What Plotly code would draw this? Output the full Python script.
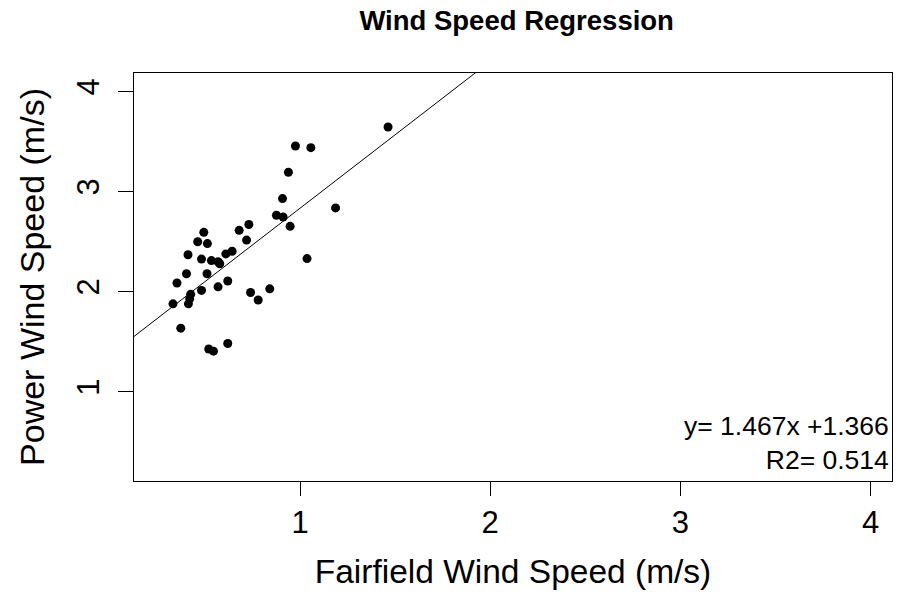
import plotly.graph_objects as go

# Data
fairfield = [1.463, 0.976, 1.057, 0.939, 0.908, 1.187, 0.876, 0.911, 0.948, 0.731,
             0.680, 0.719, 0.494, 0.462, 0.513, 0.411, 0.482, 0.534, 0.569, 0.578,
             0.610, 0.643, 1.037, 0.403, 0.511, 0.353, 0.620, 0.569, 0.482, 0.425,
             0.420, 0.413, 0.332, 0.740, 0.780, 0.841, 0.373, 0.520, 0.545, 0.620]
power = [3.645, 3.455, 3.438, 3.192, 2.929, 2.836, 2.763, 2.745, 2.652, 2.670,
         2.612, 2.515, 2.592, 2.498, 2.480, 2.368, 2.325, 2.310, 2.298, 2.278,
         2.377, 2.403, 2.330, 2.179, 2.179, 2.086, 2.106, 2.048, 2.012, 1.973,
         1.928, 1.878, 1.878, 1.991, 1.916, 2.028, 1.635, 1.427, 1.405, 1.482]

SLOPE = 1.467
INTERCEPT = 1.366
R2 = 0.514

x_range = [0.127, 4.113]
y_range = [0.108, 4.184]
x_ticks = [1, 2, 3, 4]
y_ticks = [1, 2, 3, 4]

FONT = "Liberation Sans, Arial, sans-serif"

fig = go.Figure()
fig.add_trace(go.Scatter(
    x=fairfield, y=power, mode="markers",
    marker=dict(color="black", size=9, line=dict(width=0)),
    showlegend=False, hoverinfo="x+y"))

line_x = list(x_range)
line_y = [SLOPE * v + INTERCEPT for v in line_x]
fig.add_trace(go.Scatter(
    x=line_x, y=line_y, mode="lines",
    line=dict(color="black", width=1), showlegend=False, hoverinfo="skip"))

fig.update_layout(
    width=908, height=597,
    margin=dict(l=134, r=16, t=73, b=116, autoexpand=False),
    paper_bgcolor="white", plot_bgcolor="white",
    font=dict(family=FONT, color="black"),
    title=dict(text="<b>Wind Speed Regression</b>", x=0.569, xanchor="center",
               y=1 - 20 / 597, yanchor="middle", yref="container",
               font=dict(size=27.5, family=FONT, color="black")),
    xaxis=dict(range=x_range, tickvals=x_ticks, ticktext=[str(t) for t in x_ticks],
               showgrid=False, zeroline=False, showline=True, linecolor="black",
               linewidth=1.3, mirror=True, ticks="outside", ticklen=14,
               tickcolor="black", tickwidth=1.3, tickfont=dict(size=31),
               automargin=False,
               title=dict(text="Fairfield Wind Speed (m/s)", font=dict(size=33.5), standoff=20)),
    yaxis=dict(range=y_range, tickvals=y_ticks, ticktext=[str(t) for t in y_ticks],
               showgrid=False, zeroline=False, showline=True, linecolor="black",
               linewidth=1.3, mirror=True, ticks="outside", ticklen=15,
               tickcolor="black", tickwidth=1.3, tickfont=dict(size=31), tickangle=-90,
               ticklabelstandoff=6, automargin=False,
               title=dict(text="Power Wind Speed (m/s)", font=dict(size=34), standoff=16)),
    annotations=[
        dict(text=f"y= {SLOPE:.3f}x +{INTERCEPT:.3f}<br>R2= {R2:.3f}",
             xref="paper", yref="paper", align="right",
             x=1, y=0, xanchor="right", yanchor="bottom", xshift=-1, yshift=4,
             showarrow=False, font=dict(size=26.5, family=FONT, color="black")),
    ],
)

fig.write_html("out.html", config={"displayModeBar": False},
               post_script="document.body.style.margin='0px';")
